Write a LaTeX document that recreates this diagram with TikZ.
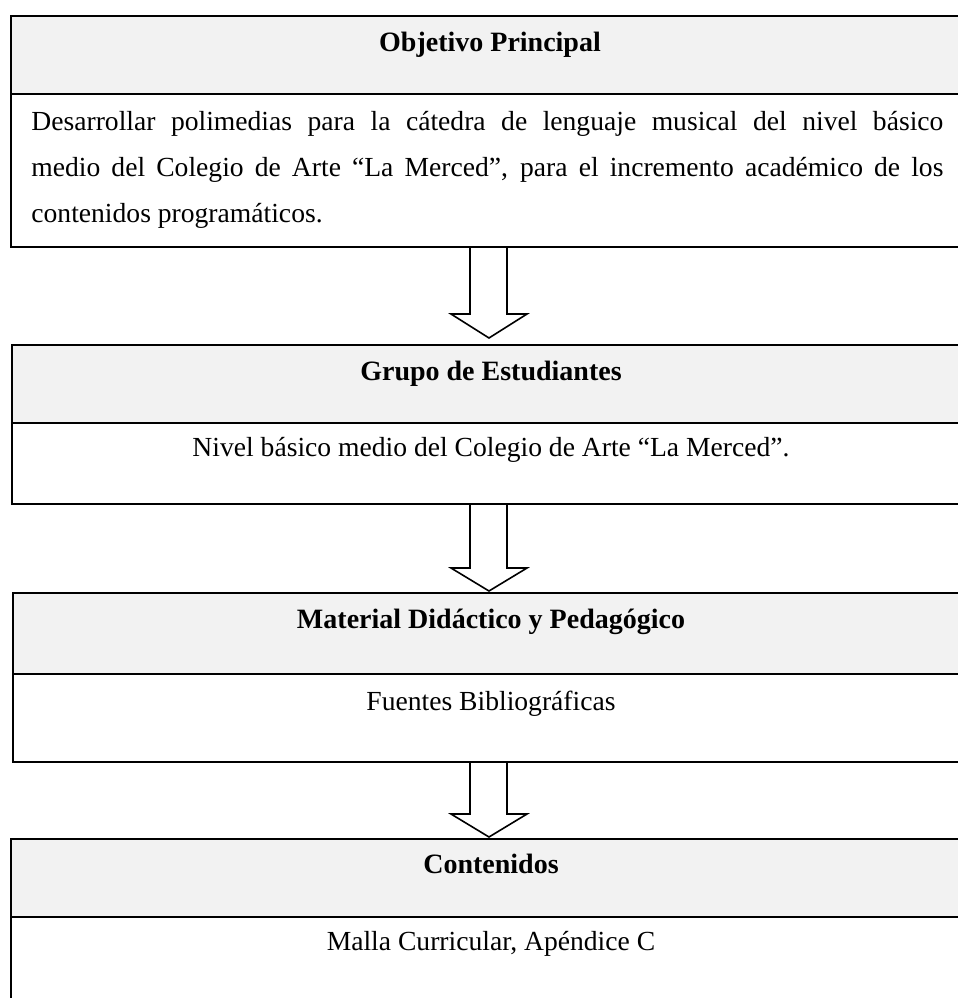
\documentclass[tikz,border=0pt]{standalone}
\usepackage{fontspec}
\setmainfont{Liberation Serif}
\usetikzlibrary{calc}
\definecolor{hdrgray}{HTML}{F2F2F2}
\hbadness=10000
\begin{document}
\begin{tikzpicture}[x=0.5pt,y=-0.5pt,
  hdrbox/.style={draw=black,line width=1pt,fill=hdrgray,inner sep=0pt,anchor=north west,minimum width=495pt},
  bodybox/.style={draw=black,line width=1pt,fill=white,inner sep=0pt,anchor=north west,minimum width=495pt},
  ttl/.style={anchor=base,inner sep=0pt,font=\fontsize{14}{16}\selectfont\bfseries},
  txt/.style={anchor=base,inner sep=0pt,font=\fontsize{13.8}{16}\selectfont},
  txtl/.style={anchor=base west,inner sep=0pt,font=\fontsize{13.8}{16}\selectfont},
  blockarrow/.style={draw=black,line width=0.8pt,fill=white,line join=miter}]
\useasboundingbox (0,0) rectangle (958,998);

% boxes
\node[bodybox,minimum height=76.5pt] (b1) at (10,93) {};
\node[hdrbox,minimum height=39pt] (h1) at (10,15) {};
\node[bodybox,minimum height=40.5pt] (b2) at (11,422) {};
\node[hdrbox,minimum height=39pt] (h2) at (11,344) {};
\node[bodybox,minimum height=44pt] (b3) at (12,673) {};
\node[hdrbox,minimum height=40.5pt] (h3) at (12,592) {};
\node[bodybox,minimum height=50pt] (b4) at (10,916) {};
\node[hdrbox,minimum height=39pt] (h4) at (10,838) {};

% texts
\node[ttl] (t1) at (490,51) {Objetivo Principal};
\node[txtl] (p1) at (31,130) {\makebox[456pt][s]{Desarrollar polimedias para la cátedra de lenguaje musical del nivel básico}};
\node[txtl] (p2) at (31,176) {\makebox[456pt][s]{medio del Colegio de Arte “La Merced”, para el incremento académico de los}};
\node[txtl] (p3) at (31,222) {contenidos programáticos.};

\node[ttl] (t2) at (491,380) {Grupo de Estudiantes};
\node[txt] (q2) at (491,456) {Nivel básico medio del Colegio de Arte “La Merced”.};

\node[ttl] (t3) at (491,628) {Material Didáctico y Pedagógico};
\node[txt] (q3) at (491,710) {Fuentes Bibliográficas};

\node[ttl] (t4) at (491,873) {Contenidos};
\node[txt] (q4) at (491,950) {Malla Curricular, Apéndice C};

% block arrows
\coordinate (L) at (470,0);
\coordinate (C) at (489,0);
\coordinate (R) at (507,0);
\draw[blockarrow] (b1.south -| L) -- ($(h2.north -| L)+(0,-30)$) -- ++(-19,0)
  -- ($(h2.north -| C)+(0,-6)$) -- ($(h2.north -| R)+(20,-30)$) -- ++(-20,0) -- (b1.south -| R);
\draw[blockarrow] (b2.south -| L) -- ($(h3.north -| L)+(0,-24)$) -- ++(-19,0)
  -- ($(h3.north -| C)+(0,-1)$) -- ($(h3.north -| R)+(20,-24)$) -- ++(-20,0) -- (b2.south -| R);
\draw[blockarrow] (b3.south -| L) -- ($(h4.north -| L)+(0,-24)$) -- ++(-19,0)
  -- ($(h4.north -| C)+(0,-1)$) -- ($(h4.north -| R)+(20,-24)$) -- ++(-20,0) -- (b3.south -| R);
\end{tikzpicture}
\end{document}
